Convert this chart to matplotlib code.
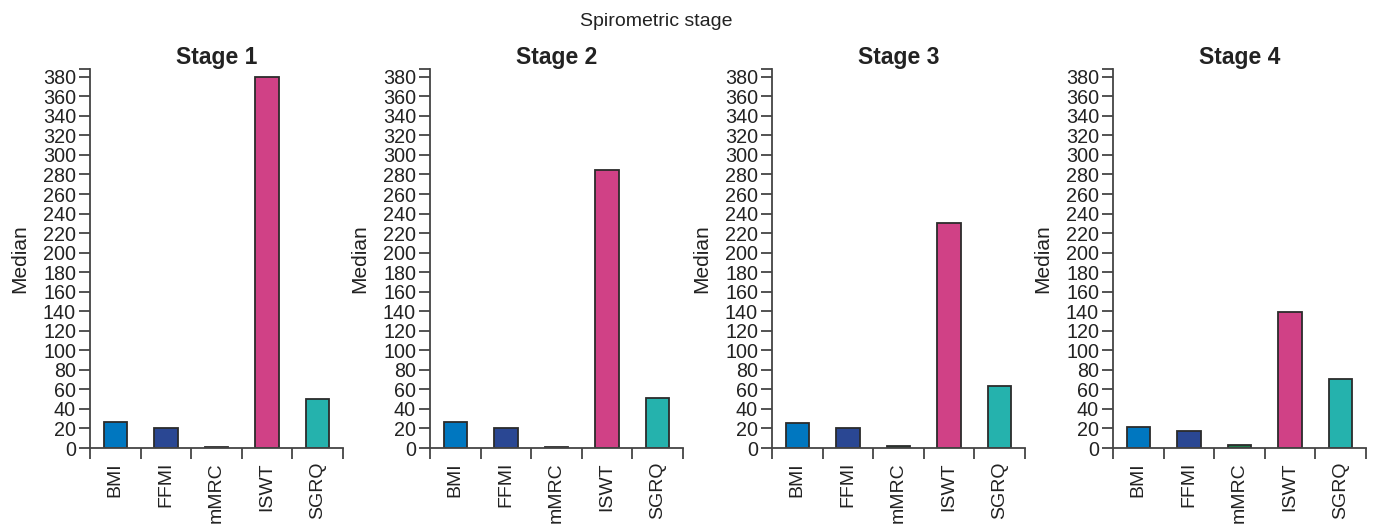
import numpy as np
import matplotlib.pyplot as plt

plt.rcParams['font.family'] = ['Liberation Sans', 'DejaVu Sans']

# data
measures = ["BMI", "FFMI", "mMRC", "ISWT", "SGRQ"]
stages = ["Stage 1", "Stage 2", "Stage 3", "Stage 4"]
stage1 = [27, 20, 1, 380, 50]
stage2 = [27, 20, 1, 285, 51]
stage3 = [26, 20, 2, 230, 63]
stage4 = [22, 17, 3, 139, 71]
all_values = [stage1, stage2, stage3, stage4]

bar_colors = ["#0077c0", "#2a4793", "#1e7a4a", "#d04186", "#25b2ad"]
yticks = np.arange(0, 381, 20)
ytop = 388

fig = plt.figure(figsize=(13.75, 5.3), dpi=100)
fig.text(656 / 1375, 0.96, "Spirometric stage", ha="center", va="center", fontsize=14, color="#222222")

lefts = [90, 430, 772, 1113]
for left, name, vals in zip(lefts, stages, all_values):
    ax = fig.add_axes([left / 1375, 1 - 448 / 530, 253 / 1375, 379 / 530])
    x = np.arange(len(measures))
    ax.bar(x, vals, width=0.46, color=bar_colors, edgecolor="#2b2b2b", linewidth=1.3)
    ax.set_xlim(-0.5, len(measures) - 0.5)
    ax.set_ylim(0, ytop)
    ax.set_yticks(yticks)
    ax.set_yticklabels([str(t) for t in yticks], fontsize=14.2, color="#222222")
    ax.set_yticks([ytop], minor=True)
    ax.set_xticks(x)
    ax.set_xticklabels(measures, rotation=90, fontsize=14, color="#222222")
    ax.set_xticks(np.arange(-0.5, len(measures)), minor=True)
    ax.tick_params(axis="x", which="major", length=0, pad=10)
    ax.tick_params(axis="x", which="minor", length=8, width=1.3, color="#444444", direction="out")
    ax.tick_params(axis="y", which="both", length=8, width=1.3, color="#444444", pad=2)
    for side in ["top", "right"]:
        ax.spines[side].set_visible(False)
    for side in ["left", "bottom"]:
        ax.spines[side].set_color("#444444")
        ax.spines[side].set_linewidth(1.3)
    ax.set_ylabel("Median", fontsize=15, color="#222222")
    ax.yaxis.set_label_coords(-61 / 253, 0.5)
    ax.set_title(name, fontsize=16.5, fontweight="bold", color="#222222", pad=3)

fig.savefig("out.png", dpi=100)
